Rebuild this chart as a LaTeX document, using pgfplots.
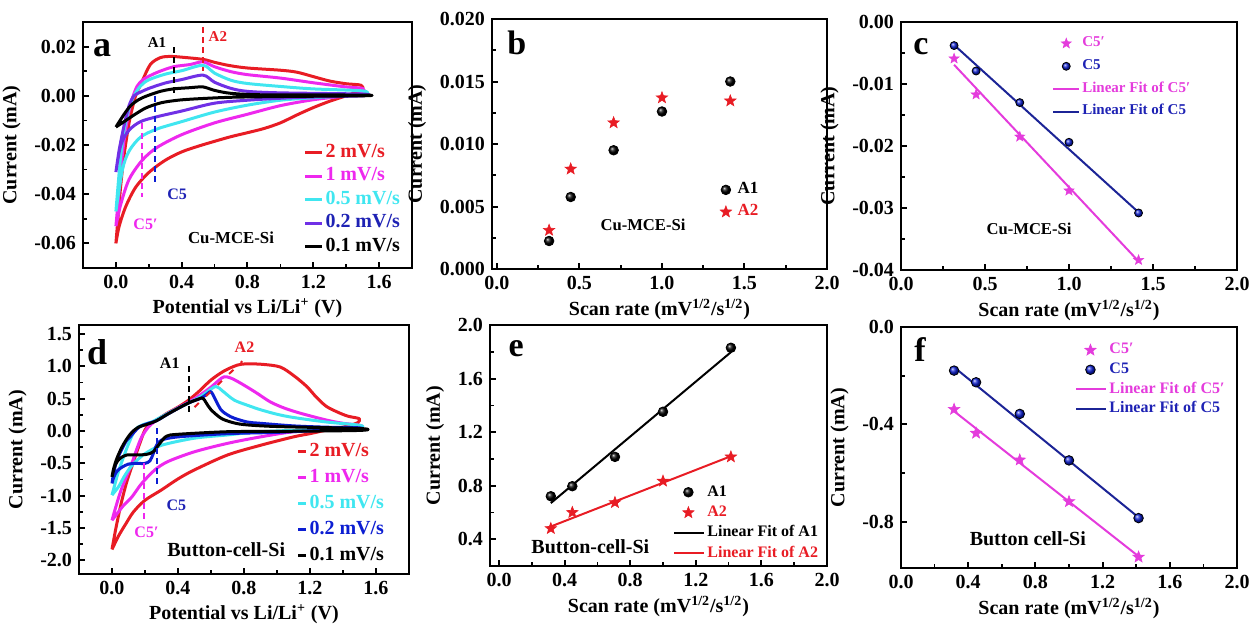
\documentclass[border=0pt]{standalone}
\usepackage{fontspec}
\setmainfont{Liberation Serif}
\usepackage{pgfplots}
\pgfplotsset{compat=1.18}

\definecolor{cR}{RGB}{232,28,36}
\definecolor{cM}{RGB}{238,40,238}
\definecolor{cC}{RGB}{64,230,240}
\definecolor{cP}{RGB}{112,48,230}
\definecolor{cB}{RGB}{12,30,210}
\definecolor{cBt}{RGB}{30,34,180}
\definecolor{cNv}{RGB}{28,36,150}
\definecolor{cMf}{RGB}{228,60,220}

\newcommand\fs[2]{\bfseries\fontsize{#1}{#2}\selectfont}

% filled five-pointed star
\pgfdeclareplotmark{fstar}{%
  \pgfpathmoveto{\pgfqpointpolar{90}{\pgfplotmarksize}}%
  \pgfpathlineto{\pgfqpointpolar{126}{0.42\pgfplotmarksize}}%
  \pgfpathlineto{\pgfqpointpolar{162}{\pgfplotmarksize}}%
  \pgfpathlineto{\pgfqpointpolar{198}{0.42\pgfplotmarksize}}%
  \pgfpathlineto{\pgfqpointpolar{234}{\pgfplotmarksize}}%
  \pgfpathlineto{\pgfqpointpolar{270}{0.42\pgfplotmarksize}}%
  \pgfpathlineto{\pgfqpointpolar{306}{\pgfplotmarksize}}%
  \pgfpathlineto{\pgfqpointpolar{342}{0.42\pgfplotmarksize}}%
  \pgfpathlineto{\pgfqpointpolar{18}{\pgfplotmarksize}}%
  \pgfpathlineto{\pgfqpointpolar{54}{0.42\pgfplotmarksize}}%
  \pgfpathclose
  \pgfusepathqfillstroke
}

\pgfplotsset{
  panel/.style={
    scale only axis, anchor=south west,
    tick align=inside, xtick pos=bottom, ytick pos=left,
    minor tick num=1,
    scaled ticks=false,
    axis line style={line width=1.3pt},
    major tick length=3.2pt, minor tick length=1.8pt,
    every major tick/.append style={line width=1pt, black},
    every minor tick/.append style={line width=0.8pt, black},
    tick label style={font=\fs{10}{12}},
    label style={font=\fs{10}{12}},
    /pgf/number format/assume math mode=true,
    legend cell align=left,
  },
  xp/.style={xticklabel style={/pgf/number format/fixed, /pgf/number format/fixed zerofill, /pgf/number format/precision=#1}},
  yp/.style={yticklabel style={/pgf/number format/fixed, /pgf/number format/fixed zerofill, /pgf/number format/precision=#1}},
  legline/.style={legend image code/.code={\draw[##1] (0pt,0pt) -- (#1,0pt);}},
  markleg/.style={legend image code/.code={\draw[##1] plot coordinates {(#1,0pt)};}},
  cv/.style={line width=1.5pt, smooth, tension=0.5, line join=round},
  ann/.style={forget plot, dash pattern=on 3pt off 2pt, line width=1pt, sharp plot},
  fit/.style={line width=1pt, sharp plot},
  balls/.style={only marks, mark=ball, mark size=2.4pt, ball color=#1},
  stars/.style={only marks, mark=fstar, mark size=3pt, color=#1, fill=#1, mark options={line width=0.3pt}},
}

\begin{document}
\begin{tikzpicture}
\path[use as bounding box] (0,0) rectangle (625pt,311.5pt);

% ---------------- (a)
\begin{axis}[panel, at={(41.5pt,177.5pt)}, width=164.5pt, height=123pt,
  xmin=-0.2, xmax=1.8, ymin=-0.07, ymax=0.03,
  xtick={0,0.4,0.8,1.2,1.6}, ytick={-0.06,-0.04,-0.02,0,0.02},
  xp=1, yp=2,
  xlabel={Potential vs Li/Li\textsuperscript{+} (V)}, ylabel={Current (mA)},
  xlabel style={yshift=2pt},
  legline=8.5pt,
  legend style={at={(0.669,0.508)}, anchor=north west, draw=none, fill=none,
    inner sep=0pt, row sep=2.2pt, column sep=1pt,
    nodes={inner sep=0pt, text height=7pt, text depth=2.5pt, font=\fs{10}{11}}},
]
\addplot[cv, cR] coordinates {(0.0,-0.060)(0.015,-0.048)(0.03,-0.036)(0.05,-0.024)(0.08,-0.011)(0.10,-0.005)(0.12,0.000)(0.16,0.006)(0.21,0.0128)(0.27,0.0155)(0.33,0.0160)(0.40,0.0157)(0.53,0.0148)(0.60,0.0136)(0.69,0.0123)(0.80,0.0113)(1.00,0.0104)(1.10,0.0096)(1.20,0.0078)(1.30,0.0060)(1.40,0.0049)(1.49,0.0043)
 (1.50,0.0025)(1.45,0.0012)(1.40,0.0000)(1.30,-0.0022)(1.20,-0.0048)(1.10,-0.0078)(1.00,-0.0110)(0.90,-0.0133)(0.80,-0.0150)(0.70,-0.0166)(0.60,-0.0185)(0.50,-0.0205)(0.40,-0.0228)(0.30,-0.0262)(0.20,-0.0312)(0.12,-0.0372)(0.06,-0.0450)(0.02,-0.0530)(0.0,-0.0600)};
\addlegendentry{\textcolor{cR}{2 mV/s}}
\addplot[cv, cM] coordinates {(0.0,-0.053)(0.015,-0.042)(0.03,-0.030)(0.05,-0.018)(0.08,-0.006)(0.10,-0.001)(0.13,0.004)(0.17,0.0068)(0.25,0.0095)(0.35,0.0118)(0.45,0.0127)(0.53,0.0138)(0.60,0.0118)(0.70,0.0098)(0.80,0.0086)(1.00,0.0072)(1.20,0.0053)(1.40,0.0036)(1.50,0.0030)
 (1.50,0.0012)(1.40,0.0000)(1.20,-0.0016)(1.00,-0.0040)(0.80,-0.0075)(0.60,-0.0110)(0.40,-0.0158)(0.25,-0.0210)(0.16,-0.0262)(0.08,-0.0340)(0.03,-0.0440)(0.0,-0.0530)};
\addlegendentry{\textcolor{cM}{1 mV/s}}
\addplot[cv, cC] coordinates {(0.0,-0.047)(0.015,-0.035)(0.03,-0.024)(0.05,-0.014)(0.08,-0.005)(0.11,0.000)(0.15,0.004)(0.20,0.0065)(0.30,0.0088)(0.40,0.0102)(0.53,0.0124)(0.60,0.0092)(0.70,0.0063)(0.80,0.0050)(1.00,0.0038)(1.20,0.0028)(1.50,0.0020)
 (1.50,0.0005)(1.20,-0.0008)(1.00,-0.0018)(0.80,-0.0038)(0.60,-0.0066)(0.40,-0.0105)(0.25,-0.0135)(0.15,-0.0168)(0.08,-0.0225)(0.04,-0.0300)(0.0,-0.0470)};
\addlegendentry{\textcolor{cC}{0.5 mV/s}}
\addplot[cv, cP] coordinates {(0.0,-0.031)(0.02,-0.022)(0.05,-0.012)(0.08,-0.004)(0.11,0.000)(0.15,0.0015)(0.20,0.0030)(0.30,0.0052)(0.40,0.0066)(0.53,0.0084)(0.60,0.0055)(0.70,0.0030)(0.80,0.0018)(1.00,0.0012)(1.50,0.0007)
 (1.50,0.0000)(1.20,-0.0005)(1.00,-0.0010)(0.80,-0.0018)(0.60,-0.0030)(0.40,-0.0062)(0.25,-0.0085)(0.15,-0.0105)(0.08,-0.0140)(0.03,-0.0200)(0.0,-0.0310)};
\addlegendentry{\textcolor{cBt}{0.2 mV/s}}
\addplot[cv, black] coordinates {(0.0,-0.0127)(0.05,-0.0075)(0.09,-0.0040)(0.14,-0.0015)(0.19,0.0000)(0.27,0.0018)(0.35,0.0028)(0.45,0.0033)(0.53,0.0036)(0.60,0.0022)(0.70,0.0010)(0.90,0.0004)(1.50,0.0003)
 (1.50,0.0000)(1.00,-0.0003)(0.70,-0.0006)(0.50,-0.0012)(0.39,-0.0017)(0.30,-0.0025)(0.25,-0.0033)(0.18,-0.0050)(0.11,-0.0078)(0.05,-0.0105)(0.0,-0.0127)};
\addlegendentry{\textcolor{black}{0.1 mV/s}}
\addplot[ann, black] coordinates {(0.356,0.0197)(0.356,0.0)};
\addplot[ann, cR] coordinates {(0.53,0.028)(0.53,0.010)};
\addplot[ann, cM] coordinates {(0.16,-0.011)(0.16,-0.041)};
\addplot[ann, cB] coordinates {(0.24,0.0)(0.24,-0.036)};
\node[font=\fs{7.5}{9}] at (axis cs:0.25,0.0218) {A1};
\node[font=\fs{7.5}{9}, text=cR] at (axis cs:0.62,0.0242) {A2};
\node[font=\fs{8}{9}, text=cM] at (axis cs:0.18,-0.0524) {C5′};
\node[font=\fs{8}{9}, text=cBt] at (axis cs:0.372,-0.0401) {C5};
\node[font=\fs{8.4}{10}] at (axis cs:0.70,-0.0578) {Cu-MCE-Si};
\node[font=\fs{18}{20}] at (rel axis cs:0.058,0.894) {a};
\end{axis}

% ---------------- (b)
\begin{axis}[panel, at={(246pt,177pt)}, width=167.5pt, height=125pt,
  xmin=-0.03, xmax=2.0, ymin=0, ymax=0.02,
  xtick={0,0.5,1,1.5,2}, ytick={0,0.005,0.01,0.015,0.02},
  xp=1, yp=3,
  xlabel={Scan rate (mV\textsuperscript{1/2}/s\textsuperscript{1/2})}, ylabel={Current (mA)},
  xlabel style={yshift=2pt},
  markleg=4pt,
  legend style={at={(0.68,0.352)}, anchor=north west, draw=none, fill=none,
    inner sep=0pt, row sep=2.5pt, column sep=3pt,
    nodes={inner sep=0pt, text height=6pt, text depth=2.5pt, font=\fs{8.5}{10}}},
]
\addplot[balls=black] coordinates {(0.316,0.00224)(0.447,0.00576)(0.707,0.0095)(1.0,0.0126)(1.414,0.0150)};
\addlegendentry{A1}
\addplot[stars=cR] coordinates {(0.316,0.0031)(0.447,0.0080)(0.707,0.0117)(1.0,0.0137)(1.414,0.01345)};
\addlegendentry{\textcolor{cR}{A2}}
\node[font=\fs{8.3}{10}] at (axis cs:0.885,0.0035) {Cu-MCE-Si};
\node[font=\fs{17}{20}] at (rel axis cs:0.074,0.903) {b};
\end{axis}

% ---------------- (c)
\begin{axis}[panel, at={(450.5pt,176.5pt)}, width=168pt, height=124pt,
  xmin=0, xmax=2.0, ymin=-0.04, ymax=0,
  xtick={0,0.5,1,1.5,2}, ytick={-0.04,-0.03,-0.02,-0.01,0},
  xp=1, yp=2,
  xlabel={Scan rate (mV\textsuperscript{1/2}/s\textsuperscript{1/2})}, ylabel={Current (mA)},
  xlabel style={yshift=2pt},
  legend style={at={(0.449,0.948)}, anchor=north west, draw=none, fill=none,
    inner sep=0pt, row sep=3.2pt, column sep=1pt,
    nodes={inner sep=0pt, text height=5.6pt, text depth=2.6pt, font=\fs{7.5}{9}}},
]
\addplot[stars=cMf, mark size=2.6pt, markleg=6.5pt] coordinates {(0.316,-0.0059)(0.447,-0.0117)(0.707,-0.0185)(1.0,-0.0272)(1.414,-0.0384)};
\addlegendentry{\textcolor{cMf}{C5′}}
\addplot[balls=cB, mark size=2pt, markleg=6.5pt] coordinates {(0.316,-0.0038)(0.447,-0.0079)(0.707,-0.0130)(1.0,-0.0194)(1.414,-0.0308)};
\addlegendentry{\textcolor{cBt}{C5}}
\addplot[fit, cMf, legline=13pt] coordinates {(0.316,-0.0069)(1.414,-0.0386)};
\addlegendentry{\textcolor{cMf}{Linear Fit of C5′}}
\addplot[fit, cNv, legline=13pt] coordinates {(0.316,-0.0037)(1.414,-0.0307)};
\addlegendentry{\textcolor{cBt}{Linear Fit of C5}}
\node[font=\fs{8.3}{10}] at (axis cs:0.762,-0.0334) {Cu-MCE-Si};
\node[font=\fs{17}{20}] at (rel axis cs:0.059,0.90) {c};
\end{axis}

% ---------------- (d)
\begin{axis}[panel, at={(39.5pt,24.5pt)}, width=165pt, height=124.5pt,
  xmin=-0.2, xmax=1.8, ymin=-2.21, ymax=1.64,
  xtick={0,0.4,0.8,1.2,1.6}, ytick={-2,-1.5,-1,-0.5,0,0.5,1,1.5},
  xp=1, yp=1,
  xlabel={Potential vs Li/Li\textsuperscript{+} (V)}, ylabel={Current (mA)},
  xlabel style={yshift=2pt},
  legline=4pt,
  legend style={at={(0.658,0.534)}, anchor=north west, draw=none, fill=none,
    inner sep=0pt, row sep=3.2pt, column sep=1pt,
    nodes={inner sep=0pt, text height=7.3pt, text depth=2.5pt, font=\fs{10}{11}}},
]
\addplot[cv, cR] coordinates {(0,-1.83)(0.02,-1.55)(0.04,-1.30)(0.06,-1.07)(0.09,-0.78)(0.12,-0.55)(0.14,-0.40)(0.17,-0.18)(0.20,0.02)(0.23,0.11)(0.27,0.17)(0.33,0.27)(0.40,0.37)(0.46,0.47)(0.53,0.62)(0.60,0.79)(0.68,0.93)(0.76,1.02)(0.82,1.04)(0.92,1.03)(1.02,0.99)(1.10,0.86)(1.18,0.69)(1.24,0.52)(1.30,0.38)(1.37,0.29)(1.43,0.23)(1.50,0.19)
 (1.49,0.13)(1.47,0.11)(1.40,0.06)(1.30,0.015)(1.20,-0.04)(1.10,-0.09)(0.90,-0.22)(0.70,-0.37)(0.50,-0.60)(0.40,-0.74)(0.30,-0.91)(0.20,-1.07)(0.13,-1.25)(0.08,-1.45)(0.04,-1.62)(0,-1.83)};
\addlegendentry{\textcolor{cR}{2 mV/s}}
\addplot[cv, cM] coordinates {(0,-1.38)(0.02,-1.20)(0.05,-0.95)(0.08,-0.75)(0.12,-0.50)(0.15,-0.28)(0.18,-0.09)(0.22,0.06)(0.26,0.15)(0.33,0.26)(0.40,0.36)(0.46,0.44)(0.53,0.55)(0.60,0.68)(0.65,0.79)(0.68,0.84)(0.72,0.82)(0.78,0.74)(0.87,0.60)(0.96,0.45)(1.05,0.35)(1.15,0.27)(1.30,0.17)(1.40,0.12)(1.50,0.09)
 (1.50,0.06)(1.30,0.02)(1.10,-0.01)(0.90,-0.09)(0.70,-0.19)(0.50,-0.32)(0.34,-0.47)(0.26,-0.60)(0.18,-0.81)(0.12,-1.02)(0.07,-1.15)(0.03,-1.28)(0,-1.38)};
\addlegendentry{\textcolor{cM}{1 mV/s}}
\addplot[cv, cC] coordinates {(0,-0.99)(0.02,-0.80)(0.04,-0.62)(0.07,-0.40)(0.10,-0.20)(0.14,0.02)(0.19,0.10)(0.24,0.14)(0.30,0.22)(0.38,0.33)(0.46,0.43)(0.53,0.52)(0.58,0.61)(0.63,0.69)(0.67,0.62)(0.74,0.48)(0.82,0.40)(0.90,0.33)(1.00,0.26)(1.10,0.21)(1.30,0.14)(1.50,0.09)
 (1.50,0.05)(1.30,0.03)(0.90,-0.01)(0.70,-0.06)(0.50,-0.11)(0.30,-0.22)(0.20,-0.35)(0.14,-0.48)(0.10,-0.60)(0.07,-0.72)(0.04,-0.86)(0,-0.99)};
\addlegendentry{\textcolor{cC}{0.5 mV/s}}
\addplot[cv, cB] coordinates {(0,-0.81)(0.01,-0.65)(0.03,-0.45)(0.06,-0.28)(0.09,-0.14)(0.11,-0.09)(0.14,0.0)(0.17,0.07)(0.22,0.12)(0.27,0.16)(0.35,0.28)(0.46,0.43)(0.54,0.51)(0.58,0.58)(0.60,0.61)(0.62,0.52)(0.66,0.33)(0.70,0.25)(0.74,0.20)(0.82,0.14)(0.90,0.12)(1.10,0.08)(1.30,0.06)(1.50,0.05)
 (1.50,0.02)(1.31,0.015)(1.00,-0.02)(0.70,-0.04)(0.40,-0.09)(0.30,-0.14)(0.27,-0.22)(0.25,-0.35)(0.23,-0.46)(0.20,-0.50)(0.15,-0.50)(0.10,-0.51)(0.06,-0.56)(0.03,-0.62)(0.01,-0.72)(0,-0.81)};
\addlegendentry{\textcolor{cB}{0.2 mV/s}}
\addplot[cv, black] coordinates {(0,-0.71)(0.01,-0.58)(0.03,-0.42)(0.06,-0.25)(0.09,-0.12)(0.12,-0.02)(0.16,0.06)(0.22,0.11)(0.27,0.16)(0.35,0.28)(0.46,0.43)(0.52,0.49)(0.55,0.51)(0.57,0.44)(0.60,0.33)(0.66,0.20)(0.72,0.14)(0.80,0.10)(1.00,0.07)(1.50,0.04)
 (1.50,0.01)(1.00,-0.005)(0.70,-0.01)(0.40,-0.05)(0.33,-0.08)(0.29,-0.19)(0.25,-0.32)(0.21,-0.36)(0.15,-0.37)(0.09,-0.37)(0.05,-0.42)(0.02,-0.52)(0,-0.71)};
\addlegendentry{\textcolor{black}{0.1 mV/s}}
\addplot[ann, black] coordinates {(0.465,1.0)(0.465,0.25)};
\addplot[ann, cM] coordinates {(0.195,-0.50)(0.195,-1.40)};
\addplot[ann, cB] coordinates {(0.27,0.04)(0.27,-0.84)};
\addplot[ann, cR, dash pattern=on 3pt off 5pt] coordinates {(0.50,0.37)(0.79,1.08)};
\node[font=\fs{8}{9}] at (axis cs:0.35,1.05) {A1};
\node[font=\fs{8}{9}, text=cR] at (axis cs:0.803,1.30) {A2};
\node[font=\fs{8}{9}, text=cM] at (axis cs:0.209,-1.56) {C5′};
\node[font=\fs{8}{9}, text=cBt] at (axis cs:0.39,-1.146) {C5};
\node[font=\fs{10}{11}] at (axis cs:0.692,-1.84) {Button-cell-Si};
\node[font=\fs{18}{20}] at (rel axis cs:0.055,0.889) {d};
\end{axis}

% ---------------- (e)
\begin{axis}[panel, at={(245pt,28.5pt)}, width=168.5pt, height=120.5pt,
  xmin=-0.055, xmax=2.0, ymin=0.2, ymax=2.0,
  xtick={0,0.4,0.8,1.2,1.6,2.0}, ytick={0.4,0.8,1.2,1.6,2.0},
  xp=1, yp=1,
  xlabel={Scan rate (mV\textsuperscript{1/2}/s\textsuperscript{1/2})}, ylabel={Current (mA)},
  xlabel style={yshift=2pt},
  legend style={at={(0.543,0.34)}, anchor=north west, draw=none, fill=none,
    inner sep=0pt, row sep=2.4pt, column sep=1pt,
    nodes={inner sep=0pt, text height=5.8pt, text depth=2pt, font=\fs{8}{9}}},
]
\addplot[balls=black, markleg=7pt] coordinates {(0.316,0.721)(0.447,0.796)(0.707,1.015)(1.0,1.352)(1.414,1.830)};
\addlegendentry{A1}
\addplot[stars=cR, markleg=7pt] coordinates {(0.316,0.48)(0.447,0.60)(0.707,0.674)(1.0,0.834)(1.414,1.015)};
\addlegendentry{\textcolor{cR}{A2}}
\addplot[fit, black, legline=15pt] coordinates {(0.316,0.670)(1.414,1.797)};
\addlegendentry{Linear Fit of A1}
\addplot[fit, cR, legline=15pt] coordinates {(0.316,0.495)(1.414,1.02)};
\addlegendentry{\textcolor{cR}{Linear Fit of A2}}
\node[font=\fs{10}{11}] at (axis cs:0.557,0.342) {Button-cell-Si};
\node[font=\fs{17}{20}] at (rel axis cs:0.078,0.903) {e};
\end{axis}

% ---------------- (f)
\begin{axis}[panel, at={(450.5pt,27.5pt)}, width=168pt, height=120.5pt,
  xmin=0, xmax=2.0, ymin=-0.99, ymax=0,
  xtick={0,0.4,0.8,1.2,1.6,2.0}, ytick={-0.8,-0.4,0},
  xp=1, yp=1,
  xlabel={Scan rate (mV\textsuperscript{1/2}/s\textsuperscript{1/2})}, ylabel={Current (mA)},
  xlabel style={yshift=2pt},
  legend style={at={(0.518,0.938)}, anchor=north west, draw=none, fill=none,
    inner sep=0pt, row sep=2pt, column sep=1pt,
    nodes={inner sep=0pt, text height=5.8pt, text depth=2pt, font=\fs{8}{9}}},
]
\addplot[stars=cMf, markleg=7pt] coordinates {(0.316,-0.338)(0.447,-0.436)(0.707,-0.546)(1.0,-0.717)(1.414,-0.945)};
\addlegendentry{\textcolor{cMf}{C5′}}
\addplot[balls=cB, markleg=7pt] coordinates {(0.316,-0.179)(0.447,-0.227)(0.707,-0.357)(1.0,-0.548)(1.414,-0.785)};
\addlegendentry{\textcolor{cBt}{C5}}
\addplot[fit, cMf, legline=15pt] coordinates {(0.316,-0.346)(1.414,-0.942)};
\addlegendentry{\textcolor{cMf}{Linear Fit of C5′}}
\addplot[fit, cNv, legline=15pt] coordinates {(0.316,-0.165)(1.414,-0.782)};
\addlegendentry{\textcolor{cBt}{Linear Fit of C5}}
\node[font=\fs{10}{11}] at (axis cs:0.755,-0.871) {Button cell-Si};
\node[font=\fs{17}{20}] at (rel axis cs:0.057,0.905) {f};
\end{axis}
\end{tikzpicture}
\end{document}
